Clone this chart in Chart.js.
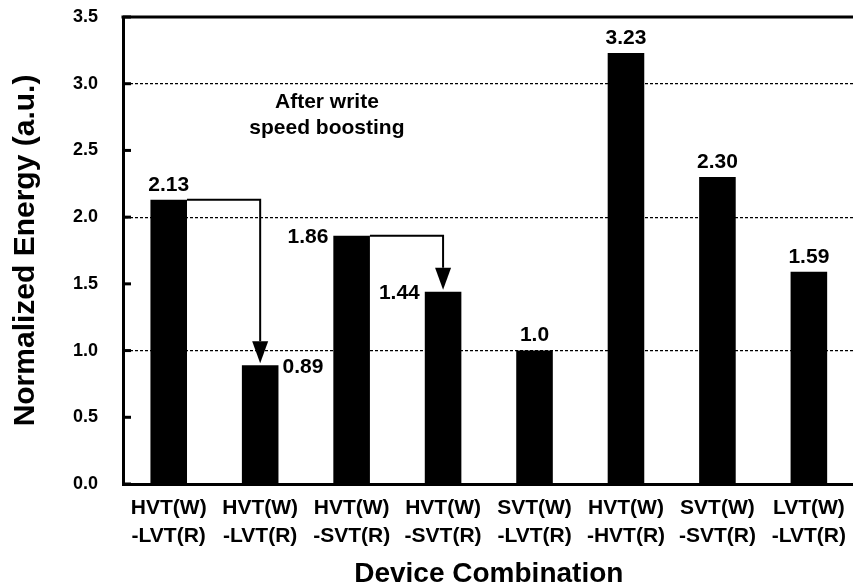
<!DOCTYPE html>
<html>
<head>
<meta charset="utf-8">
<script src="https://cdn.jsdelivr.net/npm/chart.js@4.4.1/dist/chart.umd.min.js"></script>
<style>
  html, body { margin: 0; padding: 0; background: #fff; overflow: hidden; }
  #wrap { width: 857px; height: 588px; position: relative; }
</style>
</head>
<body>
<div id="wrap"><canvas id="chart"></canvas></div>
<script>
// device combinations (two-line tick labels)
const combos = [
    ["HVT(W)", "-LVT(R)"],
    ["HVT(W)", "-LVT(R)"],
    ["HVT(W)", "-SVT(R)"],
    ["HVT(W)", "-SVT(R)"],
    ["SVT(W)", "-LVT(R)"],
    ["HVT(W)", "-HVT(R)"],
    ["SVT(W)", "-SVT(R)"],
    ["LVT(W)", "-LVT(R)"]
];

// normalized energy values
const energy = [2.13, 0.89, 1.86, 1.44, 1.0, 3.23, 2.30, 1.59];
const energyText = ["2.13", "0.89", "1.86", "1.44", "1.0", "3.23", "2.30", "1.59"];

// where each value label sits relative to its bar
const labelSide = ["top", "right", "left", "left", "top", "top", "top", "top"];

// before -> after write speed boosting
const arrows = [[0, 1], [2, 3]];

const noteLines = ["After write", "speed boosting"];

const gridValues = [1, 2, 3];

const FONT = "'Liberation Sans', Arial, Helvetica, sans-serif";

// annotations: value labels, arrows, top frame line, inward ticks
const decorPlugin = {
    id: "decor",
    afterDatasetsDraw(chart) {
        const ctx = chart.ctx;
        const area = chart.chartArea;
        const xs = chart.scales.x;
        const ys = chart.scales.y;
        const bars = chart.getDatasetMeta(0).data;

        ctx.save();

        // top frame line
        ctx.strokeStyle = "#000";
        ctx.lineWidth = 3;
        ctx.beginPath();
        ctx.moveTo(area.left - 1.5, area.top);
        ctx.lineTo(area.right + 2, area.top);
        ctx.stroke();

        // inward tick marks on the y axis
        ys.ticks.forEach(t => {
            const py = ys.getPixelForValue(t.value);
            ctx.beginPath();
            ctx.moveTo(area.left, py);
            ctx.lineTo(area.left + 8, py);
            ctx.stroke();
        });

        // value labels
        ctx.fillStyle = "#000";
        ctx.font = "bold 21px " + FONT;
        ctx.textBaseline = "middle";
        bars.forEach((bar, i) => {
            const half = bar.width / 2;
            const side = labelSide[i];
            if (side === "top") {
                ctx.textAlign = "center";
                ctx.fillText(energyText[i], bar.x, bar.y - 15);
            } else if (side === "right") {
                ctx.textAlign = "left";
                ctx.fillText(energyText[i], bar.x + half + 4, bar.y + 2);
            } else {
                ctx.textAlign = "right";
                ctx.fillText(energyText[i], bar.x - half - 5, bar.y + 1);
            }
        });

        // arrows
        ctx.lineWidth = 2;
        arrows.forEach(([from, to]) => {
            const a = bars[from];
            const b = bars[to];
            const x0 = a.x + a.width / 2;
            const y0 = a.y;
            const x1 = b.x;
            const tipY = b.y - 2;
            const headLen = 22;
            const headHalf = 8;
            ctx.beginPath();
            ctx.moveTo(x0, y0);
            ctx.lineTo(x1, y0);
            ctx.lineTo(x1, tipY - headLen);
            ctx.stroke();
            ctx.beginPath();
            ctx.moveTo(x1 - headHalf, tipY - headLen);
            ctx.lineTo(x1 + headHalf, tipY - headLen);
            ctx.lineTo(x1, tipY);
            ctx.closePath();
            ctx.fill();
        });

        // note text
        ctx.textAlign = "center";
        const nx = xs.getPixelForValue(1.73);
        const ny = ys.getPixelForValue(2.86);
        noteLines.forEach((line, i) => {
            ctx.fillText(line, nx, ny + i * 26);
        });

        ctx.restore();
    }
};

new Chart(document.getElementById("chart"), {
    type: "bar",
    data: {
        labels: combos,
        datasets: [{
            data: energy,
            backgroundColor: "#000",
            borderWidth: 0,
            barPercentage: 0.4,
            categoryPercentage: 1.0
        }]
    },
    options: {
        responsive: true,
        maintainAspectRatio: false,
        animation: false,
        layout: { padding: { top: 17, right: 0, bottom: 0, left: 0 } },
        plugins: {
            legend: { display: false },
            tooltip: { enabled: false }
        },
        scales: {
            x: {
                grid: { display: false, drawTicks: false },
                border: { display: true, color: "#000", width: 3 },
                ticks: {
                    color: "#000",
                    padding: 11,
                    maxRotation: 0,
                    autoSkip: false,
                    font: { family: FONT, size: 21, weight: "bold", lineHeight: 1.3 }
                },
                title: {
                    display: true,
                    text: "Device Combination",
                    color: "#000",
                    padding: { top: 0, bottom: 0 },
                    font: { family: FONT, size: 28, weight: "bold", lineHeight: 1.0 }
                },
                afterFit: (s) => { s.height = 104; }
            },
            y: {
                min: 0,
                max: 3.5,
                ticks: {
                    stepSize: 0.5,
                    color: "#000",
                    padding: 25,
                    callback: (v) => Number(v).toFixed(1),
                    font: { family: FONT, size: 18, weight: "bold" }
                },
                grid: {
                    drawTicks: false,
                    lineWidth: 1.2,
                    color: (c) => gridValues.includes(c.tick && c.tick.value) ? "#000" : "rgba(0,0,0,0)"
                },
                border: { display: true, color: "#000", width: 3, dash: [3, 2] },
                title: {
                    display: true,
                    text: "Normalized Energy (a.u.)",
                    color: "#000",
                    padding: { top: 8, bottom: 0 },
                    font: { family: FONT, size: 30, weight: "bold" }
                },
                afterFit: (s) => {
                    s.width = 123;
                    s.paddingTop = 0;
                    s.paddingBottom = 0;
                }
            }
        }
    },
    plugins: [decorPlugin]
});
</script>
</body>
</html>
